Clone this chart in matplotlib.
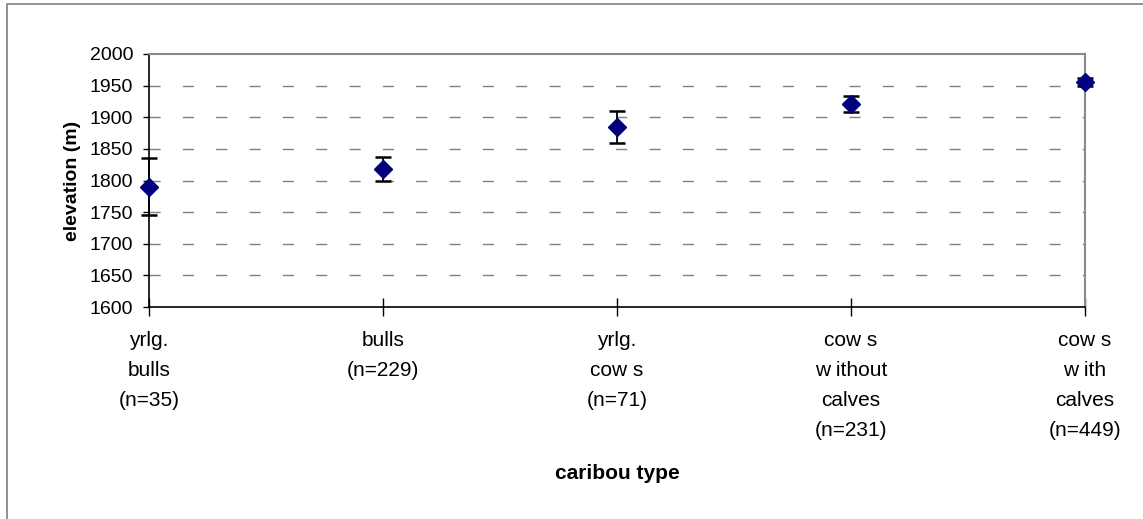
"""Caribou elevation by type"""
import numpy as np
import matplotlib.pyplot as plt
from matplotlib.patches import Rectangle

plt.rcParams['font.family'] = ['Liberation Sans', 'DejaVu Sans']

# data
categories = ['yrlg.\nbulls\n(n=35)', 'bulls\n(n=229)', 'yrlg.\ncow s\n(n=71)',
              'cow s\nw ithout\ncalves\n(n=231)', 'cow s\nw ith\ncalves\n(n=449)']
elevation = [1790, 1818, 1885, 1921, 1956]
error = [45, 19, 25, 13, 6]
yticks = np.arange(1600, 2001, 50)

fig = plt.figure(figsize=(11.43, 5.19), dpi=100)
ax = fig.add_axes([149 / 1143, 1 - 307 / 519, 936 / 1143, 253 / 519])

x = np.arange(len(categories))
ax.errorbar(x, elevation, yerr=error, fmt='none', ecolor='black',
            elinewidth=1.3, capsize=5.5, capthick=1.8, clip_on=False, zorder=3)
ax.plot(x, elevation, linestyle='none', marker='D', markersize=9,
        color='#000080', clip_on=False, zorder=4)

ax.set_xlim(0, len(categories) - 1)
ax.set_ylim(1600, 2000)
ax.set_yticks(yticks)
ax.set_xticks(x)
ax.set_xticklabels(categories, fontsize=15, linespacing=1.73, va='top')
ax.tick_params(axis='y', labelsize=14, direction='out', length=4.5, width=1, pad=7)
ax.tick_params(axis='x', direction='inout', length=13, width=1, pad=11)

# dashed gridlines (not at top)
for v in yticks[1:-1]:
    ax.axhline(v, color='#808080', linewidth=1.0, dashes=(8, 16), zorder=1)

for side in ['top', 'right']:
    ax.spines[side].set_color('#8a8a8a')
    ax.spines[side].set_linewidth(1.5)
for side in ['left', 'bottom']:
    ax.spines[side].set_color('black')
    ax.spines[side].set_linewidth(1.2)

ax.set_ylabel('elevation (m)', fontsize=14, fontweight='bold', labelpad=6)
ax.set_xlabel('caribou type', fontsize=15, fontweight='bold', labelpad=17)

# outer frame
fig.patches.append(Rectangle((7 / 1143, -0.1), 1.2, 0.1 + 1 - 4 / 519, transform=fig.transFigure,
                             fill=False, edgecolor='#808080', linewidth=1.2))

fig.savefig('out.png', dpi=100, facecolor='white')
